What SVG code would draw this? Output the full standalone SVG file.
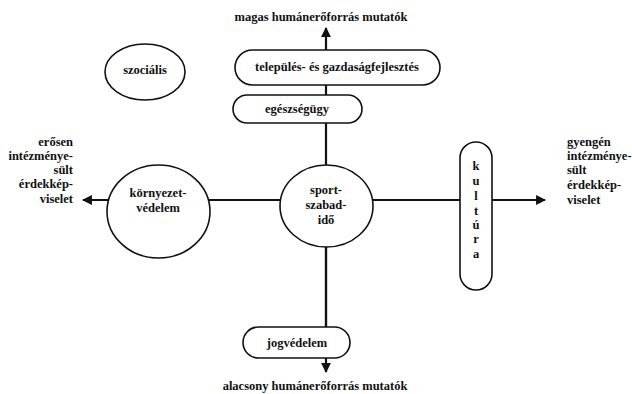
<svg xmlns="http://www.w3.org/2000/svg" width="632" height="394" viewBox="0 0 632 394">
<style>
text{font-family:'Liberation Serif','DejaVu Serif',serif;font-weight:bold;font-size:12.5px;fill:#111}
.c{text-anchor:middle}
.r{text-anchor:end}
.n{fill:#fff;stroke:#111;stroke-width:1.6}
.ax{stroke:#111;stroke-width:2.2;fill:none}
</style>
<defs>
<marker id="ah" viewBox="0 0 10 10" refX="9" refY="5" markerWidth="4.5" markerHeight="4.5" orient="auto" markerUnits="strokeWidth">
<path d="M0,0 L10,5 L0,10 z" fill="#111"/>
</marker>
</defs>
<rect width="632" height="394" fill="#fff"/>
<g id="connectors">
<line class="ax" x1="326" y1="330" x2="326" y2="28" marker-end="url(#ah)"/>
<line class="ax" x1="326" y1="200" x2="326" y2="372" marker-end="url(#ah)"/>
<line class="ax" x1="326" y1="200" x2="83" y2="200" marker-end="url(#ah)"/>
<line class="ax" x1="326" y1="200" x2="545" y2="200" marker-end="url(#ah)"/>
</g>
<g id="labels">
<text class="c" x="321" y="21">magas humánerőforrás mutatók</text>
<text class="c" x="315" y="390">alacsony humánerőforrás mutatók</text>
<text class="r" x="73" y="146">erősen</text>
<text class="r" x="73" y="160">intézménye-</text>
<text class="r" x="73" y="174">sült</text>
<text class="r" x="73" y="188">érdekkép-</text>
<text class="r" x="73" y="203">viselet</text>
<text x="567" y="146">gyengén</text>
<text x="567" y="160">intézménye-</text>
<text x="567" y="174">sült</text>
<text x="567" y="189">érdekkép-</text>
<text x="567" y="204">viselet</text>
</g>
<g id="telepules">
<rect class="n" x="235" y="50" width="205" height="35" rx="17.5"/>
<text class="c" x="337" y="71">település- és gazdaságfejlesztés</text>
</g>
<g id="egeszsegugy">
<rect class="n" x="233" y="95" width="129" height="28" rx="14"/>
<text class="c" x="297" y="113">egészségügy</text>
</g>
<g id="szocialis">
<ellipse class="n" cx="145" cy="72" rx="40" ry="28"/>
<text class="c" x="145" y="74">szociális</text>
</g>
<g id="kornyezetvedelem">
<ellipse class="n" cx="158.5" cy="211.5" rx="51.5" ry="46.5"/>
<text class="c" x="158" y="197">környezet-</text>
<text class="c" x="158" y="212">védelem</text>
</g>
<g id="sport">
<ellipse class="n" cx="326.5" cy="206" rx="46.5" ry="41"/>
<text class="c" x="326" y="194">sport-</text>
<text class="c" x="326" y="209">szabad-</text>
<text class="c" x="326" y="224">idő</text>
</g>
<g id="kultura">
<rect class="n" x="460" y="142" width="32" height="148" rx="16"/>
<text class="c" x="476" y="170">k</text>
<text class="c" x="476" y="185">u</text>
<text class="c" x="476" y="200">l</text>
<text class="c" x="476" y="215">t</text>
<text class="c" x="476" y="229">ú</text>
<text class="c" x="476" y="243">r</text>
<text class="c" x="476" y="258">a</text>
</g>
<g id="jogvedelem">
<rect class="n" x="243" y="327" width="107" height="31" rx="15.5"/>
<text class="c" x="297" y="347">jogvédelem</text>
</g>
</svg>
